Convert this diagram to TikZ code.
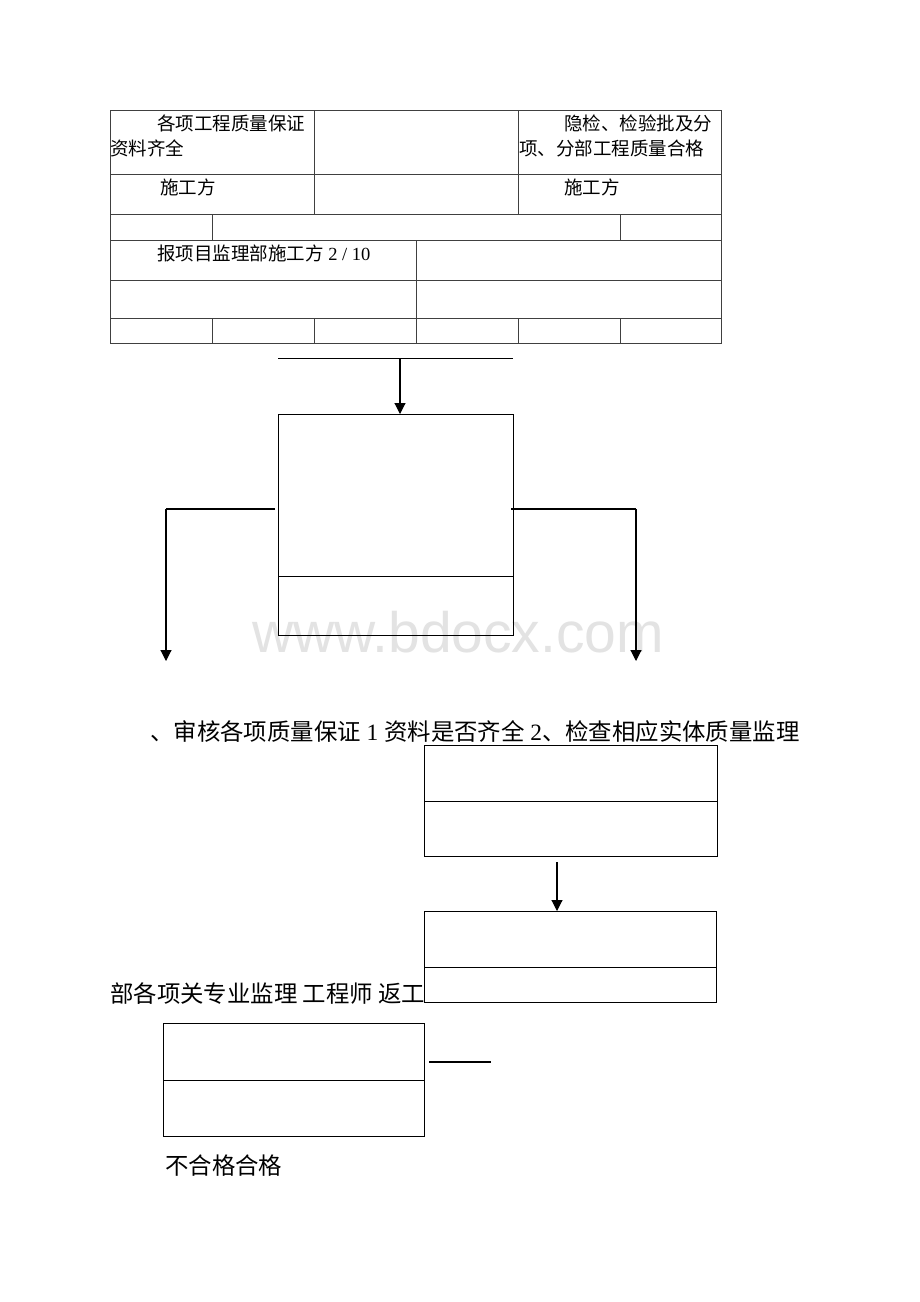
\documentclass[tikz,border=0pt]{standalone}
\usepackage{fontspec}
\setmainfont{Liberation Serif}
\newfontfamily\cjk{Noto Sans CJK SC}
\newfontfamily\wmfont{Liberation Sans}
\usetikzlibrary{arrows.meta}
\begin{document}
\begin{tikzpicture}[x=1pt,y=-1pt,
  tline/.style={draw=black!75,line width=0.8pt},
  boxline/.style={draw=black,line width=1pt},
  flowbox/.style={boxline,rectangle,inner sep=0pt,anchor=north west},
  conn/.style={draw=black,line width=1.1pt},
  arr/.style={conn,-{Triangle[length=11pt,width=11pt]}},
  txt/.style={inner sep=0pt,anchor=base west,font=\fontsize{18.5}{18.5}\selectfont},
  bigtxt/.style={inner sep=0pt,anchor=base west,font=\fontsize{23.4}{23.4}\selectfont}]
\useasboundingbox (0,0) rectangle (920,1302);
\fill[white] (0,0) rectangle (920,1302);
% watermark
\node[inner sep=0pt,anchor=base west,text=black!11,font=\wmfont\fontsize{57}{57}\selectfont] (wm) at (252,652) {www.bdocx.com};
% table
\draw[tline] (110,110) rectangle (721,343);
\foreach \y in {174,214,240,280,318} \draw[tline] (110,\y) -- (721,\y);
\foreach \x in {314,518} \draw[tline] (\x,110) -- (\x,214);
\foreach \x in {212,620} \draw[tline] (\x,214) -- (\x,240);
\draw[tline] (416,240) -- (416,318);
\foreach \x in {212,314,416,518,620} \draw[tline] (\x,318) -- (\x,343);
% table texts
\node[txt] (t1) at (157,130) {\cjk 各项工程质量保证};
\node[txt] (t2) at (110,155) {\cjk 资料齐全};
\node[txt] (t3) at (564,130) {\cjk 隐检、检验批及分};
\node[txt] (t4) at (519,155) {\cjk 项、分部工程质量合格};
\node[txt] (t5) at (160,194) {\cjk 施工方};
\node[txt] (t6) at (564,194) {\cjk 施工方};
\node[txt] (t7) at (157,260) {{\cjk 报项目监理部施工方} 2 / 10};
% flow: top bar
\coordinate (barL) at (278,358);
\coordinate (barR) at (513,358);
\coordinate (barM) at (400,358);
\draw[conn,line width=0.9pt] (barL) -- (barR);
% box 1
\node[flowbox,minimum width=235pt,minimum height=221pt] (b1) at (278,414) {};
\draw[boxline] (278,576) -- (513,576);
\draw[arr] (barM) -- (b1.north -| barM);
% left and right branches
\coordinate (lS) at (275,509);
\coordinate (lC) at (166,509);
\coordinate (lE) at (166,661);
\coordinate (rS) at (511,509);
\coordinate (rC) at (636,509);
\coordinate (rE) at (636,661);
\draw[conn,line width=1.5pt] (lS) -- (lC);
\draw[arr] (lC) -- (lE);
\draw[conn] (rS) -- (rC);
\draw[arr] (rC) -- (rE);
% big text
\node[bigtxt] (big1) at (150,740) {{\cjk 、审核各项质量保证} 1 {\cjk 资料是否齐全} 2{\cjk 、检查相应实体质量监理}};
% box 2
\node[flowbox,minimum width=293pt,minimum height=111pt] (b2) at (424,745) {};
\draw[boxline] (424,801) -- (717,801);
% box 3
\node[flowbox,minimum width=292pt,minimum height=91pt] (b3) at (424,911) {};
\draw[boxline] (424,967) -- (716,967);
\coordinate (a2s) at (557,862);
\draw[arr] (a2s) -- (a2s |- b3.north);
\node[bigtxt] (big2) at (110,1002) {\cjk 部各项关专业监理 工程师 返工};
% box 4
\node[flowbox,minimum width=261pt,minimum height=113pt] (b4) at (163,1023) {};
\draw[boxline] (163,1080) -- (424,1080);
\coordinate (sL) at (429,1062);
\coordinate (sR) at (491,1062);
\draw[conn] (sL) -- (sR);
\node[bigtxt] (big3) at (165,1174) {\cjk 不合格合格};
\end{tikzpicture}
\end{document}
